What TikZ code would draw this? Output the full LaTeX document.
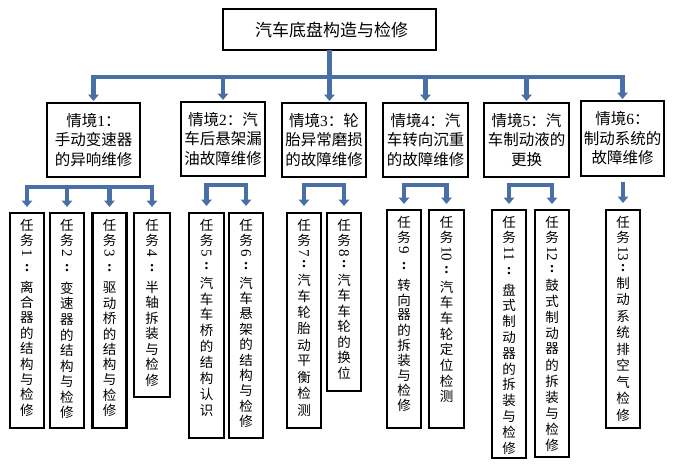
\documentclass[tikz,border=0pt]{standalone}
\usepackage{fontspec}
\usepackage{graphicx}
\setmainfont{Noto Sans CJK SC}
\newfontfamily\ser{Liberation Serif}
\usetikzlibrary{arrows.meta}
\definecolor{connblue}{RGB}{72,112,166}
% vertical text helpers
\newcommand\vch[2]{\hbox to 30pt{\hss\vbox to #2pt{\vss\hbox{#1}\vss}\hss}}
\def\vloop#1{\ifx\relax#1\else\vch{#1}{\curpitch}\expandafter\vloop\fi}
\newcommand\vtask[5]{%
  \vbox to #1pt{\offinterlineskip
    \vskip4.5pt
    \vch{任}{15.4}\vch{务}{15.4}%
    \vbox to \dimexpr #5pt-#4pt/2-35.3pt\relax{\kern1pt
      \hbox to 30pt{\hss\rotatebox{-90}{\ser\fontsize{15}{15}\selectfont #2}\hss}\vss
      \hbox to 30pt{\hss\ser\bfseries\fontsize{15}{15}\selectfont :\hss}\vss}%
    \def\curpitch{#4}\vloop #3\relax
    \vss}}
\tikzset{
  topbox/.style={draw=black, line width=2.6pt, inner sep=0pt, outer sep=0pt,
    font=\fontsize{17}{20}\selectfont},
  sitbox/.style={draw=black, line width=2.6pt, inner sep=0pt, outer sep=0pt,
    align=center, minimum height=74pt, font=\fontsize{15.5}{19.5}\selectfont},
  taskbox/.style={draw=black, line width=2.4pt, inner sep=0pt, outer sep=0pt,
    anchor=north, font=\fontsize{13.5}{15}\selectfont},
  cline/.style={draw=connblue, line width=4.6pt},
  carrow/.style={cline, -{Triangle[width=10.5pt,length=6.5pt]}},
}
\begin{document}
\begin{tikzpicture}[x=1pt,y=-1pt]
\fill[white] (0,0) rectangle (675,467);
\useasboundingbox (0,0) rectangle (675,467);

% title
\node[topbox, minimum width=213pt, minimum height=41pt] (top) at (329.5,29.5) {\hspace*{4pt}汽车底盘构造与检修};

% situations
\node[sitbox, minimum width=93pt] (s1) at (93.5,140) {情境{\ser 1}：\\手动变速器\\的异响维修};
\node[sitbox, minimum width=84pt] (s2) at (223,139) {情境{\ser 2}：汽\\车后悬架漏\\油故障维修};
\node[sitbox, minimum width=84pt] (s3) at (324,140) {情境{\ser 3}：轮\\胎异常磨损\\的故障维修};
\node[sitbox, minimum width=85pt] (s4) at (425.5,140) {情境{\ser 4}：汽\\车转向沉重\\的故障维修};
\node[sitbox, minimum width=85pt] (s5) at (526.5,140) {情境{\ser 5}：汽\\车制动液的\\更换};
\node[sitbox, minimum width=83pt, minimum height=75pt] (s6) at (622.5,138.5) {情境{\ser 6}：\\制动系统的\\故障维修};

% tasks
\node[taskbox, minimum width=34pt] (t1) at (27,213) {\vtask{215}{1}{离合器的结构与检修}{15.4}{74}};
\node[taskbox, minimum width=34pt] (t2) at (67,213) {\vtask{215}{2}{变速器的结构与检修}{15.6}{75}};
\node[taskbox, minimum width=34pt] (t3) at (109.5,213) {\vtask{215}{3}{驱动桥的结构与检修}{15.3}{75}};
\node[taskbox, minimum width=36pt] (t4) at (152,213) {\vtask{184}{4}{半轴拆装与检修}{15.5}{74}};
\node[taskbox, minimum width=35pt] (t5) at (206.5,213) {\vtask{225}{5}{汽车车桥的结构认识}{15.9}{70}};
\node[taskbox, minimum width=34pt] (t6) at (246,213) {\vtask{225}{6}{汽车悬架的结构与检修}{15.4}{70}};
\node[taskbox, minimum width=34pt] (t7) at (304,213) {\vtask{215}{7}{汽车轮胎动平衡检测}{16.25}{67}};
\node[taskbox, minimum width=34pt] (t8) at (344,213) {\vtask{178}{8}{汽车车轮的换位}{15.5}{67}};
\node[taskbox, minimum width=34pt] (t9) at (404,210) {\vtask{218}{9}{转向器的拆装与检修}{15}{75}};
\node[taskbox, minimum width=35pt] (t10) at (446.5,210) {\vtask{218}{10}{汽车车轮定位检测}{15.7}{77}};
\node[taskbox, minimum width=34pt] (t11) at (509,210) {\vtask{248}{11}{盘式制动器的拆装与检修}{15.8}{80}};
\node[taskbox, minimum width=34pt] (t12) at (552,210) {\vtask{247}{12}{鼓式制动器的拆装与检修}{16}{75}};
\node[taskbox, minimum width=34pt] (t13) at (623,210) {\vtask{218}{13}{制动系统排空气检修}{16.5}{73}};

% top level connectors
\coordinate (busL) at (s1.north |- 0,77);
\coordinate (busR) at (s6.north |- 0,77);
\draw[cline] (top.south) -- (top.south |- busL);
\draw[cline, line cap=rect] (busL) -- (busR);
\foreach \s in {s1,s2,s4,s5,s6}
  \draw[carrow] (\s.north |- busL) -- ([yshift=2pt]\s.north);
\draw[carrow] (top.south |- busL) -- ([yshift=2pt]top.south |- s3.north);

% task group connectors
\coordinate (g1L) at (t1.north |- 0,187);
\coordinate (g1R) at (t4.north |- 0,187);
\draw[cline, line cap=rect] (g1L) -- (g1R);
\foreach \t in {t1,t2,t3,t4}
  \draw[carrow] (\t.north |- g1L) -- ([yshift=6pt]\t.north);

\coordinate (g2L) at (t5.north |- 0,185);
\coordinate (g2R) at (t6.north |- 0,185);
\draw[cline, line cap=rect] (g2L) -- (g2R);
\foreach \t in {t5,t6}
  \draw[carrow] (\t.north |- g2L) -- ([yshift=7pt]\t.north);

\coordinate (g3L) at (t7.north |- 0,185);
\coordinate (g3R) at (t8.north |- 0,185);
\draw[cline, line cap=rect] (g3L) -- (g3R);
\foreach \t in {t7,t8}
  \draw[carrow] (\t.north |- g3L) -- ([yshift=7pt]\t.north);

\coordinate (g4L) at (t9.north |- 0,185);
\coordinate (g4R) at (t10.north |- 0,185);
\draw[cline, line cap=rect] (g4L) -- (g4R);
\foreach \t in {t9,t10}
  \draw[carrow] (\t.north |- g4L) -- ([yshift=6pt]\t.north);

\coordinate (g5L) at (t11.north |- 0,185);
\coordinate (g5R) at (t12.north |- 0,185);
\draw[cline, line cap=rect] (g5L) -- (g5R);
\foreach \t in {t11,t12}
  \draw[carrow] (\t.north |- g5L) -- ([yshift=6pt]\t.north);

\coordinate (g6T) at (t13.north |- 0,182);
\draw[carrow] (g6T) -- ([yshift=7pt]t13.north);
\end{tikzpicture}
\end{document}
